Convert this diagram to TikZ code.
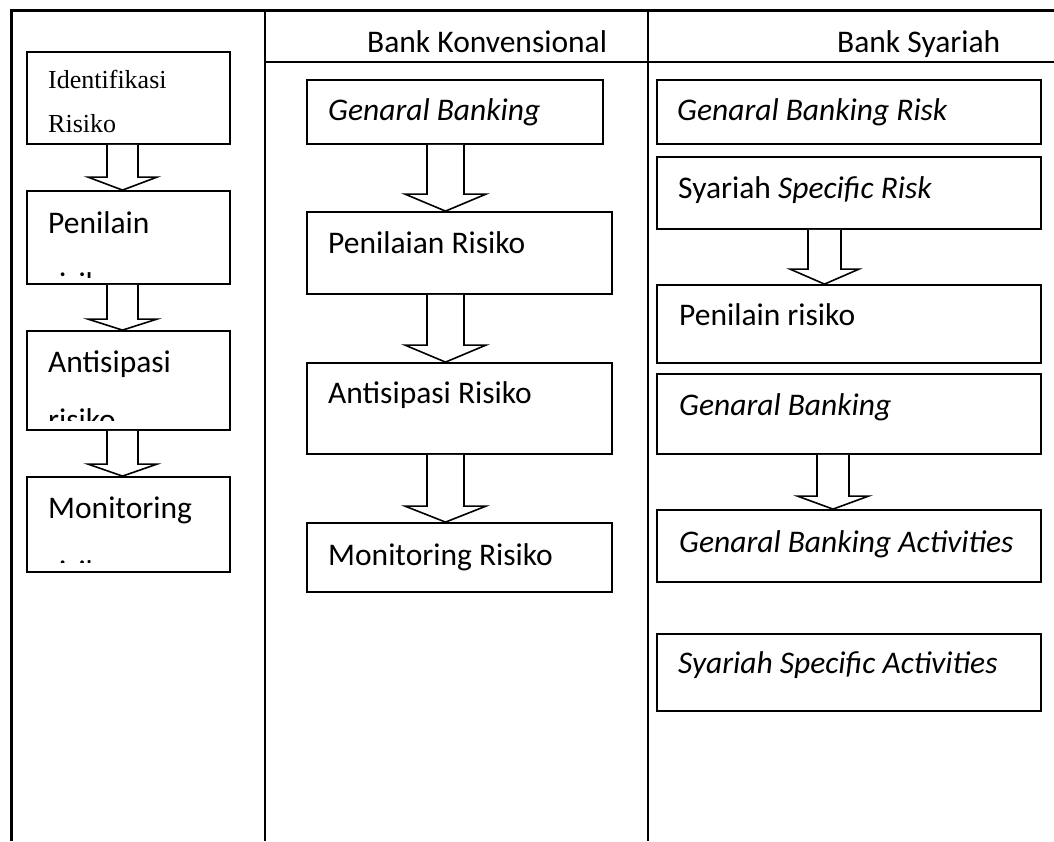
\documentclass[tikz,border=0pt]{standalone}
\usepackage{fontspec}
\setmainfont{Carlito}
\newfontfamily\timesfont{Liberation Serif}
\usetikzlibrary{calc}
\tikzset{
  box/.style={draw=black, line width=1.8pt, rectangle, inner sep=0pt, fill=none},
  txt/.style={anchor=base west, inner sep=0pt, font=\fontsize{31.5}{38}\selectfont},
  serif/.style={anchor=base west, inner sep=0pt, font=\timesfont\fontsize{26}{30}\selectfont},
  blockarrow/.style={draw=black, line width=1.6pt, line join=miter, fill=white},
  frame/.style={draw=black, line width=3.5pt},
  divider/.style={draw=black, line width=2pt}
}
% #1 from node, #2 to node, #3 arrow centre coordinate, #4 half shaft, #5 half head, #6 head height
\newcommand{\blockarr}[6]{%
  \draw[blockarrow]
    ([xshift=-#4pt]#1.south -| #3) --
    ([xshift=-#4pt,yshift=#6pt]#2.north -| #3) --
    ([xshift=-#5pt,yshift=#6pt]#2.north -| #3) --
    (#2.north -| #3) --
    ([xshift=#5pt,yshift=#6pt]#2.north -| #3) --
    ([xshift=#4pt,yshift=#6pt]#2.north -| #3) --
    ([xshift=#4pt]#1.south -| #3);}
\begin{document}
\begin{tikzpicture}[x=1pt,y=-1pt]
\useasboundingbox (0,0) rectangle (1054,841);
\fill[white] (0,0) rectangle (1054,841);

% frame
\draw[frame] (11.5,8.5) -- (11.5,841);
\draw[frame] (10,10.5) -- (1054,10.5);
\draw[divider] (265,10) -- (265,841);
\draw[divider] (648,10) -- (648,841);
\draw[divider] (265,62) -- (1054,62);

% headers
\node[txt] (hk) at (367,52) {Bank Konvensional};
\node[txt] (hs) at (837,52) {Bank Syariah};

% left column boxes
\node[box, minimum width=203pt, minimum height=92pt] (l1) at (128.5,98) {};
\node[box, minimum width=203pt, minimum height=93pt] (l2) at (128.5,237.5) {};
\node[box, minimum width=203pt, minimum height=99pt] (l3) at (128.5,380.5) {};
\node[box, minimum width=203pt, minimum height=95pt] (l4) at (128.5,524.5) {};

\node[serif] (l1a) at (48,88) {Identifikasi};
\node[serif] (l1b) at (48,132) {Risiko};
\node[txt] (l2a) at (48,233) {Penilain};
\node[txt] (l3a) at (48,372) {Antisipasi};
\node[txt] (l4a) at (48,518) {Monitoring};
\begin{scope}
  \clip (28,191) rectangle (229,277);
  \node[txt] (l2b) at (48,294) {risiko};
\end{scope}
\begin{scope}
  \clip (28,331) rectangle (229,420);
  \node[txt] (l3b) at (48,430) {risiko};
\end{scope}
\begin{scope}
  \clip (28,477) rectangle (229,562);
  \node[txt] (l4b) at (48,582) {risiko};
\end{scope}

\coordinate (la) at (122.5,0);
\blockarr{l1}{l2}{la}{15.5}{34.5}{13}
\blockarr{l2}{l3}{la}{15.5}{34.5}{11}
\blockarr{l3}{l4}{la}{15.5}{34.5}{12}

% middle column
\node[box, minimum width=296pt, minimum height=64pt] (m1) at (455,112) {};
\node[box, minimum width=305pt, minimum height=82pt] (m2) at (459.5,253) {};
\node[box, minimum width=305pt, minimum height=91pt] (m3) at (459.5,408.5) {};
\node[box, minimum width=305pt, minimum height=69pt] (m4) at (459.5,557.5) {};

\node[txt] (m1t) at (328,120) {\itshape Genaral Banking};
\node[txt] (m2t) at (328,253) {Penilaian Risiko};
\node[txt] (m3t) at (328,403) {Antisipasi Risiko};
\node[txt] (m4t) at (328,565) {Monitoring Risiko};

\coordinate (ma) at (445.5,0);
\blockarr{m1}{m2}{ma}{18.5}{40.5}{17}
\blockarr{m2}{m3}{ma}{18.5}{40.5}{17}
\blockarr{m3}{m4}{ma}{18.5}{40.5}{16}

% right column
\node[box, minimum width=384pt, minimum height=64pt] (r1) at (849,112) {};
\node[box, minimum width=384pt, minimum height=72pt] (r2) at (849,193) {};
\node[box, minimum width=384pt, minimum height=78pt] (r3) at (849,324) {};
\node[box, minimum width=384pt, minimum height=80pt] (r4) at (849,414) {};
\node[box, minimum width=384pt, minimum height=72pt] (r5) at (849,546) {};
\node[box, minimum width=384pt, minimum height=77pt] (r6) at (849,672.5) {};

\node[txt] (r1t) at (677,120) {\itshape Genaral Banking Risk};
\node[txt] (r2t) at (678,198) {Syariah \textit{Specific Risk}};
\node[txt] (r3t) at (679,325) {Penilain risiko};
\node[txt] (r4t) at (679,415) {\itshape Genaral Banking};
\node[txt] (r5t) at (679,552) {\itshape Genaral Banking Activities};
\node[txt] (r6t) at (678,673) {\itshape Syariah Specific Activities};

\coordinate (ra1) at (824.5,0);
\coordinate (ra2) at (833,0);
\blockarr{r2}{r3}{ra1}{16.5}{34.5}{15}
\blockarr{r4}{r5}{ra2}{16}{35.5}{13}
\end{tikzpicture}
\end{document}
